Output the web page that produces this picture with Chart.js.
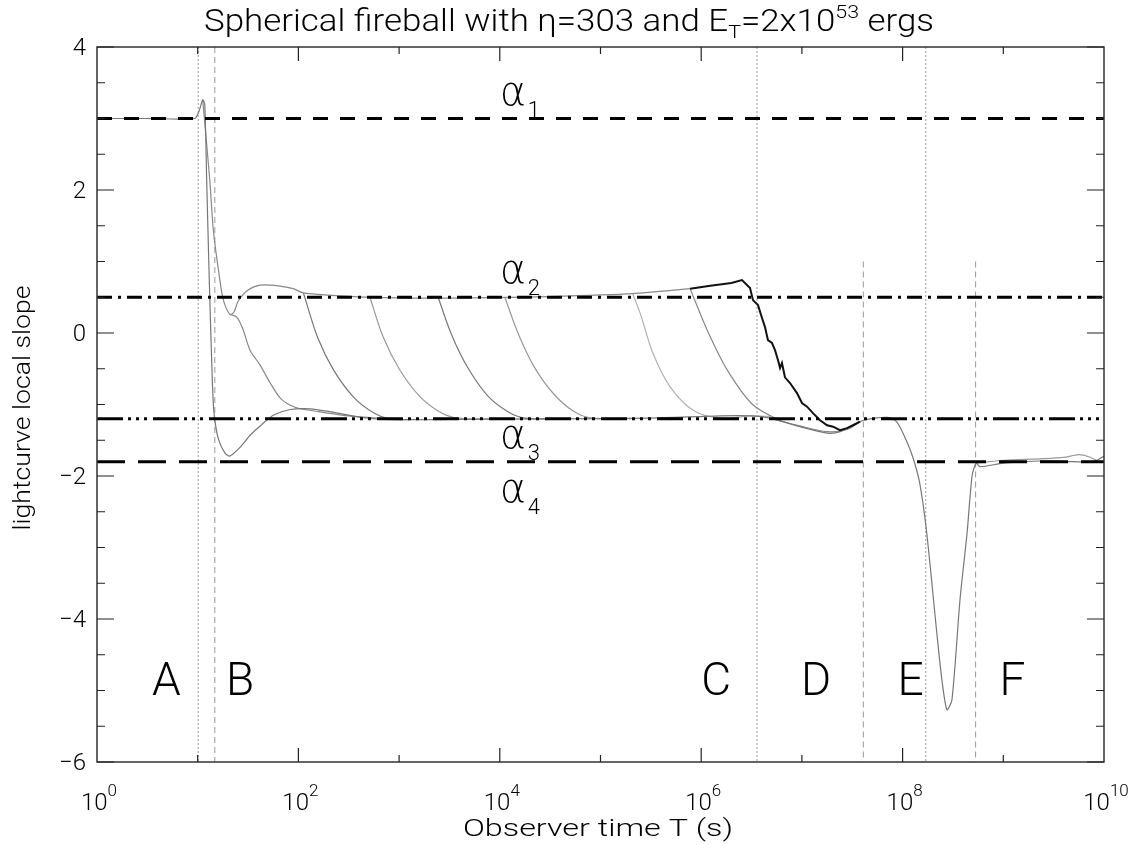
<!DOCTYPE html>
<html>
<head>
<meta charset="utf-8">
<script src="https://cdn.jsdelivr.net/npm/chart.js@4.4.1/dist/chart.umd.min.js"></script>
<style>
  body { margin: 0; background: #fff; }
  canvas { display: block; }
</style>
</head>
<body>
<canvas id="slopeChart" width="1138" height="845"></canvas>
<script>
// curves as [log10 T, local slope]
const mainCurve = [[0,3.0],[0.5,3.0],[0.97,3.0],[1.01,3.09],[1.05,3.26],[1.07,3.2],[1.089,2.14],[1.115,0.74],
  [1.145,-0.66],[1.162,-1.12],[1.205,-1.48],[1.271,-1.68],[1.32,-1.72],[1.42,-1.6],[1.52,-1.43],[1.62,-1.3],
  [1.75,-1.15],[1.92,-1.07],[2.12,-1.06],[2.31,-1.1],[2.58,-1.17],[2.86,-1.21],[3.5,-1.21],[4.5,-1.2],
  [5.49,-1.19],[6.19,-1.16],[6.5,-1.16],[6.68,-1.19],[6.98,-1.31],[7.25,-1.4],[7.38,-1.38],[7.55,-1.26],
  [7.61,-1.22],[7.73,-1.19],[7.85,-1.18],[7.94,-1.24],[8.02,-1.45],[8.1,-1.73],[8.17,-2.1],[8.24,-2.8],
  [8.34,-4.2],[8.39,-4.85],[8.44,-5.27],[8.49,-5.13],[8.57,-3.73],[8.64,-2.8],[8.69,-2.0],[8.73,-1.82],
  [8.77,-1.87],[9.0,-1.82],[9.36,-1.79],[9.7,-1.8],[9.9,-1.8],[10,-1.72]];
const plateauCurve = [[1.05,3.26],[1.12,2.14],[1.155,1.44],[1.22,0.74],[1.255,0.46],[1.32,0.26],[1.36,0.29],
  [1.4,0.44],[1.5,0.6],[1.62,0.67],[1.8,0.66],[1.95,0.62],[2.05,0.56],[2.4,0.52],[3.0,0.49],[3.7,0.49],
  [4.5,0.51],[5.32,0.55],[5.89,0.62]];
const lateCurve = [[5.89,0.62],[6.09,0.66],[6.3,0.7],[6.405,0.74],[6.485,0.63],[6.514,0.46],[6.564,0.39],
  [6.604,0.21],[6.634,0.08],[6.663,-0.1],[6.703,-0.14],[6.733,-0.24],[6.763,-0.38],[6.783,-0.49],
  [6.802,-0.42],[6.832,-0.62],[6.882,-0.7],[6.951,-0.84],[7.001,-0.98],[7.051,-1.03],[7.11,-1.12],
  [7.18,-1.22],[7.25,-1.29],[7.31,-1.31],[7.378,-1.36],[7.448,-1.33],[7.507,-1.29],[7.577,-1.24]];
const break1 = [[1.32,0.26],[1.39,0.22],[1.45,0.05],[1.52,-0.24],[1.62,-0.45],[1.72,-0.7],[1.82,-0.91],
  [1.92,-1.01],[2.02,-1.06],[2.2,-1.1],[2.5,-1.16],[2.9,-1.2]];
const break2 = [[2.05,0.56],[2.19,-0.06],[2.35,-0.52],[2.55,-0.9],[2.75,-1.12],[2.9,-1.2],[3.2,-1.21]];
const break3 = [[2.71,0.5],[2.84,-0.05],[3.0,-0.5],[3.2,-0.88],[3.4,-1.1],[3.58,-1.19],[3.9,-1.2]];
const break4 = [[3.39,0.49],[3.52,-0.02],[3.68,-0.48],[3.88,-0.88],[4.08,-1.1],[4.25,-1.19],[4.6,-1.2]];
const break5 = [[4.05,0.5],[4.18,0.0],[4.34,-0.47],[4.54,-0.86],[4.74,-1.1],[4.92,-1.19],[5.3,-1.2]];
const break6 = [[5.32,0.55],[5.4,0.25],[5.52,-0.28],[5.69,-0.75],[5.92,-1.08],[6.19,-1.19],[6.5,-1.16],[6.7,-1.17]];
const break7 = [[5.89,0.62],[6.06,0.04],[6.26,-0.52],[6.51,-1.0],[6.78,-1.22],[6.98,-1.3],[7.25,-1.38],
  [7.45,-1.35],[7.58,-1.24]];
const tailCurve = [[8.73,-1.82],[9.0,-1.78],[9.36,-1.76],[9.6,-1.74],[9.75,-1.7],[9.85,-1.73],[9.95,-1.8]];

// asymptotic slopes alpha1..alpha4
const alphaSlopes = [3.0, 0.5, -1.2, -1.8];
// region boundaries (log10 T) and where the lines start at the top
const dottedBounds = [1.005, 6.554, 8.23];
const dashedBounds = [1.17, 7.61, 8.725];
const dashedTops = [4, 1.0, 1.0];
const regionNames = ['A', 'B', 'C', 'D', 'E', 'F'];

// tick labels
const xLabelExps = [0, 2, 4, 6, 8, 10];
const yLabelValues = [-6, -4, -2, 0, 2, 4];

const FONT = 'Roboto, "DejaVu Sans", sans-serif';
const WEIGHT = '300';
const regionLabelAt = [0.69, 1.42, 6.15, 7.14, 8.08, 9.09];
const alphaLabelBase = [3.19, 0.70, -1.61, -2.36];

const toPts = arr => arr.map(([lt, s]) => ({ x: 10 ** lt, y: s }));

function curve(arr, color, width, tension) {
  return { data: toPts(arr), showLine: true, borderColor: color, borderWidth: width,
    pointRadius: 0, tension: tension, fill: false };
}

const alphaDash = [[15, 12], [15, 6, 3, 6], [26, 5, 3, 5, 3, 5, 3, 6], [28, 13]];

const datasets = [];
alphaSlopes.forEach((v, i) => {
  datasets.push({ data: [{ x: 1, y: v }, { x: 1e10, y: v }], showLine: true, borderColor: '#000',
    borderWidth: 3, borderDash: alphaDash[i], pointRadius: 0 });
});
datasets.push(curve(lateCurve, '#111', 2, 0));
datasets.push(curve(mainCurve, '#777', 1.2, 0.25));
datasets.push(curve(plateauCurve, '#888', 1.2, 0.25));
datasets.push(curve(break1, '#888', 1.2, 0.3));
datasets.push(curve(break2, '#777', 1.2, 0.3));
datasets.push(curve(break3, '#999', 1.2, 0.3));
datasets.push(curve(break4, '#777', 1.2, 0.3));
datasets.push(curve(break5, '#999', 1.2, 0.3));
datasets.push(curve(break6, '#b0b0b0', 1.2, 0.3));
datasets.push(curve(break7, '#888', 1.2, 0.3));
datasets.push(curve(tailCurve, '#999', 1.2, 0.3));
dottedBounds.forEach(lt => {
  datasets.push({ data: [{ x: 10 ** lt, y: 4 }, { x: 10 ** lt, y: -6 }], showLine: true,
    borderColor: '#999', borderWidth: 1, borderDash: [2, 2], pointRadius: 0 });
});
dashedBounds.forEach((lt, i) => {
  datasets.push({ data: [{ x: 10 ** lt, y: dashedTops[i] }, { x: 10 ** lt, y: -6 }], showLine: true,
    borderColor: '#999', borderWidth: 1, borderDash: [6, 4], pointRadius: 0 });
});

// draws text made of pieces with own size and vertical shift;
// fitWidth stretches the whole run horizontally to that width
function richText(ctx, parts, x, y, align, fitWidth, family) {
  const fam = family || FONT;
  let w = 0;
  parts.forEach(p => {
    ctx.font = `${WEIGHT} ${p.size}px ${fam}`;
    p.w = ctx.measureText(p.text).width;
    w += p.w;
  });
  const k = fitWidth ? fitWidth / w : 1;
  const total = w * k;
  const left = align === 'center' ? x - total / 2 : (align === 'right' ? x - total : x);
  ctx.save();
  ctx.translate(left, y);
  ctx.scale(k, 1);
  ctx.textAlign = 'left';
  ctx.textBaseline = 'alphabetic';
  let cx = 0;
  parts.forEach(p => {
    ctx.font = `${WEIGHT} ${p.size}px ${fam}`;
    ctx.fillText(p.text, cx, p.dy || 0);
    cx += p.w;
  });
  ctx.restore();
}

const decorations = {
  id: 'decorations',
  afterDraw(chart) {
    const { ctx, chartArea: a, scales: { x, y } } = chart;
    ctx.save();
    ctx.fillStyle = '#000';
    ctx.strokeStyle = '#333';
    ctx.lineWidth = 1.5;
    ctx.strokeRect(a.left, a.top, a.right - a.left, a.bottom - a.top);

    // inward ticks
    ctx.strokeStyle = '#222';
    ctx.lineWidth = 1.2;
    ctx.beginPath();
    for (let v = -6; v <= 4; v += 0.5) {
      const py = y.getPixelForValue(v);
      const len = yLabelValues.includes(v) ? 17 : 8;
      ctx.moveTo(a.left, py); ctx.lineTo(a.left + len, py);
      ctx.moveTo(a.right, py); ctx.lineTo(a.right - len, py);
    }
    for (let e = 1; e <= 9; e++) {
      const px = x.getPixelForValue(10 ** e);
      const len = xLabelExps.includes(e) ? 14 : 7;
      ctx.moveTo(px, a.bottom); ctx.lineTo(px, a.bottom - len);
      ctx.moveTo(px, a.top); ctx.lineTo(px, a.top + len);
    }
    ctx.stroke();

    // tick labels
    xLabelExps.forEach(e => {
      richText(ctx, [{ text: '10', size: 24 }, { text: String(e), size: 17, dy: -14 }],
        x.getPixelForValue(10 ** e) + 2, 810, 'center');
    });
    yLabelValues.forEach(v => {
      const t = v < 0 ? '\u2212' + Math.abs(v) : String(v);
      richText(ctx, [{ text: t, size: 24 }], 86, y.getPixelForValue(v) + 8, 'right');
    });

    // title and axis titles
    richText(ctx, [
      { text: 'Spherical fireball with \u03b7=303 and E', size: 31 },
      { text: 'T', size: 19, dy: 7 },
      { text: '=2x10', size: 31 },
      { text: '53', size: 19, dy: -13 },
      { text: ' ergs', size: 31 }
    ], 569, 31, 'center', 730);
    richText(ctx, [{ text: 'Observer time T (s)', size: 24 }], 598, 836, 'center', 270);
    ctx.save();
    ctx.translate(30, 408);
    ctx.rotate(-Math.PI / 2);
    richText(ctx, [{ text: 'lightcurve local slope', size: 24 }], 0, 0, 'center', 245);
    ctx.restore();

    // alpha labels
    alphaLabelBase.forEach((b, i) => {
      const px = x.getPixelForValue(1e4);
      const py = y.getPixelForValue(b);
      richText(ctx, [{ text: '\u03b1', size: 40 }], px, py, 'left', 0, '"DejaVu Sans", sans-serif');
      richText(ctx, [{ text: String(i + 1), size: 22 }], px + 28, py + 12, 'left');
    });

    // region letters
    regionNames.forEach((n, i) => {
      richText(ctx, [{ text: n, size: 46 }], x.getPixelForValue(10 ** regionLabelAt[i]),
        y.getPixelForValue(-5.06), 'center');
    });
    ctx.restore();
  }
};

new Chart(document.getElementById('slopeChart'), {
  type: 'scatter',
  data: { datasets: datasets },
  options: {
    responsive: false,
    animation: false,
    devicePixelRatio: 1,
    layout: { padding: { left: 97, right: 34, top: 47, bottom: 83 } },
    plugins: { legend: { display: false }, tooltip: { enabled: false } },
    scales: {
      x: { type: 'logarithmic', min: 1, max: 1e10, display: false },
      y: { type: 'linear', min: -6, max: 4, display: false }
    }
  },
  plugins: [decorations]
});
</script>
</body>
</html>
